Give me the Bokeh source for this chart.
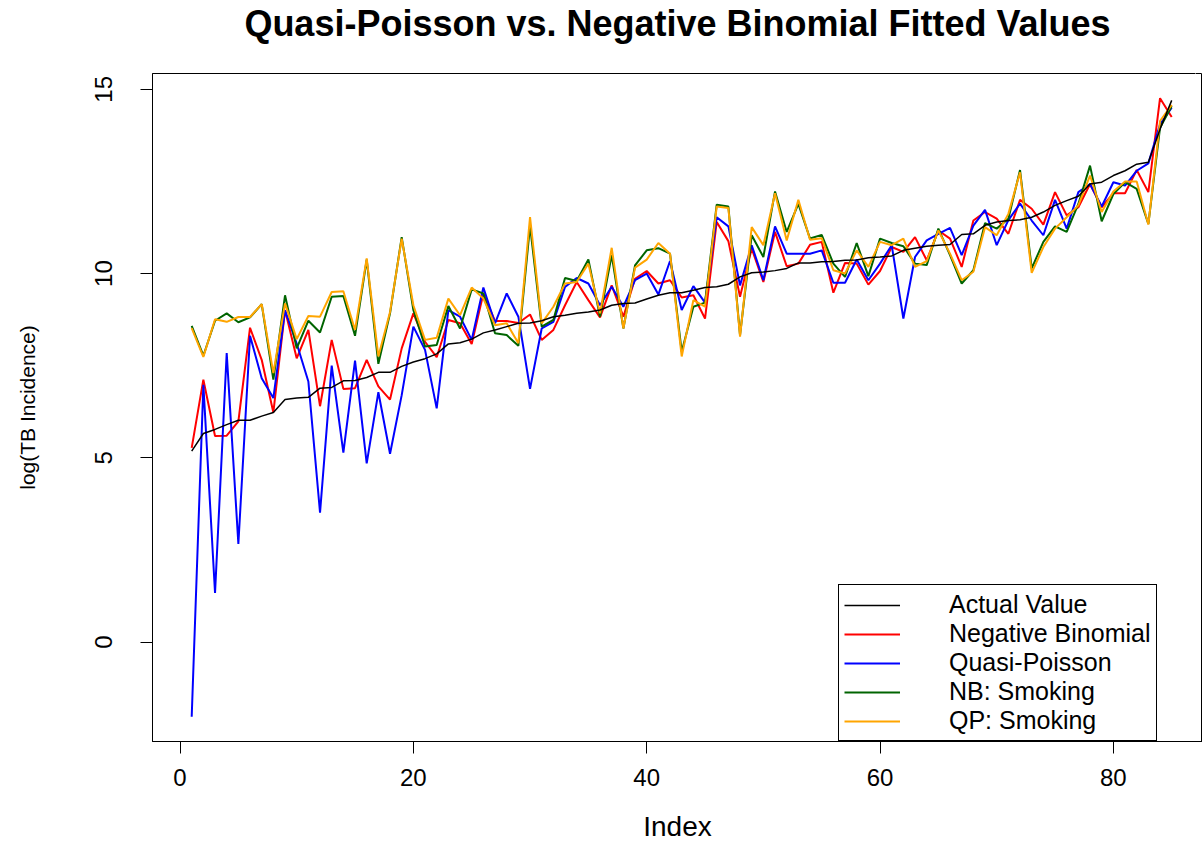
from bokeh.plotting import figure
from bokeh.models import Range1d, FixedTicker, Legend, LegendItem, ColumnDataSource, LinearAxis
from bokeh.embed import file_html
from bokeh.resources import INLINE

index = list(range(1, 86))

actual = [5.18, 5.66, 5.77, 5.90, 6.02, 6.02, 6.13, 6.23, 6.58, 6.62,
          6.64, 6.89, 6.91, 7.09, 7.10, 7.18, 7.32, 7.32, 7.48, 7.60,
          7.69, 7.82, 8.09, 8.12, 8.22, 8.39, 8.47, 8.56, 8.65, 8.66,
          8.72, 8.83, 8.87, 8.92, 8.96, 9.01, 9.14, 9.19, 9.20, 9.31,
          9.41, 9.48, 9.48, 9.55, 9.62, 9.64, 9.71, 9.91, 10.02, 10.04,
          10.08, 10.14, 10.29, 10.29, 10.32, 10.33, 10.36, 10.37, 10.43, 10.45,
          10.48, 10.63, 10.69, 10.74, 10.77, 10.79, 11.06, 11.08, 11.31, 11.40,
          11.44, 11.46, 11.53, 11.67, 11.85, 11.98, 12.10, 12.43, 12.48, 12.66,
          12.79, 12.97, 13.02, 13.92, 14.70]

neg_binomial = [5.27, 7.12, 5.59, 5.60, 5.99, 8.53, 7.66, 6.23, 9.01, 7.70,
                8.47, 6.40, 8.20, 6.87, 6.89, 7.66, 6.94, 6.58, 7.97, 8.92,
                8.15, 7.73, 8.74, 8.65, 8.09, 9.46, 8.71, 8.71, 8.66, 8.89,
                8.20, 8.47, 9.14, 9.77, 9.28, 8.81, 9.68, 8.83, 9.86, 10.07,
                9.73, 9.82, 9.35, 9.41, 8.78, 11.40, 10.88, 9.37, 10.68, 9.77,
                11.13, 10.20, 10.27, 10.78, 10.86, 9.48, 10.29, 10.27, 9.70, 10.07,
                10.72, 10.59, 10.99, 10.36, 11.17, 10.95, 10.18, 11.44, 11.67, 11.49,
                11.08, 12.00, 11.76, 11.33, 12.21, 11.58, 11.80, 12.43, 11.80, 12.18,
                12.18, 12.81, 12.21, 14.76, 14.25]

quasi_poisson = [-2.03, 6.98, 1.33, 7.84, 2.66, 8.31, 7.16, 6.62, 9.00, 8.10,
                 7.07, 3.51, 7.50, 5.14, 7.64, 4.85, 6.78, 5.11, 6.70, 8.56,
                 7.93, 6.34, 9.01, 8.83, 8.20, 9.62, 8.65, 9.46, 8.83, 6.87,
                 8.51, 8.69, 9.64, 9.88, 9.73, 9.14, 9.64, 9.10, 9.82, 10.00,
                 9.43, 10.34, 9.01, 9.66, 9.21, 11.53, 11.28, 9.68, 10.77, 9.82,
                 11.28, 10.54, 10.54, 10.54, 10.63, 9.75, 9.75, 10.38, 9.82, 10.27,
                 10.77, 8.78, 10.45, 10.90, 11.08, 11.24, 10.50, 11.30, 11.73, 10.77,
                 11.45, 11.90, 11.44, 11.04, 12.00, 11.22, 12.21, 12.43, 11.82, 12.48,
                 12.39, 12.79, 12.99, 14.05, 14.50]

nb_smoking = [8.58, 7.77, 8.72, 8.92, 8.68, 8.81, 9.17, 7.12, 9.41, 7.97,
              8.72, 8.40, 9.37, 9.39, 8.31, 10.38, 7.55, 8.92, 10.99, 9.01,
              8.02, 8.06, 9.12, 8.51, 9.57, 9.46, 8.38, 8.33, 8.04, 11.30,
              8.56, 8.74, 9.88, 9.80, 10.38, 8.83, 10.50, 8.51, 10.22, 10.63,
              10.69, 10.54, 7.88, 9.10, 9.21, 11.87, 11.82, 8.33, 11.04, 10.45,
              12.23, 11.13, 11.89, 10.95, 11.05, 10.27, 9.91, 10.83, 9.93, 10.95,
              10.83, 10.74, 10.27, 10.23, 11.22, 10.50, 9.73, 10.09, 11.37, 11.22,
              11.49, 12.81, 10.14, 10.86, 11.28, 11.13, 11.89, 12.93, 11.42, 12.16,
              12.48, 12.30, 11.35, 13.96, 14.55]

qp_smoking = [8.52, 7.74, 8.76, 8.69, 8.82, 8.82, 9.17, 7.30, 9.19, 8.22,
              8.85, 8.83, 9.50, 9.52, 8.47, 10.41, 7.75, 8.96, 10.95, 9.14,
              8.20, 8.26, 9.32, 8.87, 9.62, 9.32, 8.60, 8.65, 8.11, 11.53,
              8.65, 9.10, 9.73, 9.77, 10.27, 8.92, 10.70, 8.51, 10.16, 10.38,
              10.83, 10.54, 7.75, 9.28, 9.10, 11.82, 11.78, 8.29, 11.26, 10.77,
              12.18, 10.90, 12.00, 10.92, 10.96, 10.09, 10.00, 10.63, 10.18, 10.86,
              10.77, 10.95, 10.18, 10.34, 11.17, 10.54, 9.82, 10.05, 11.26, 11.04,
              11.62, 12.75, 10.02, 10.72, 11.22, 11.53, 11.85, 12.66, 11.67, 12.23,
              12.50, 12.50, 11.33, 14.14, 14.58]

x_ticks = [0, 20, 40, 60, 80]
y_ticks = [0, 5, 10, 15]
title_text = "Quasi-Poisson vs. Negative Binomial Fitted Values"

FONT = "Liberation Sans"

src = ColumnDataSource(dict(index=index, actual=actual, nb=neg_binomial, qp=quasi_poisson,
                            nbs=nb_smoking, qps=qp_smoking))

p = figure(width=1202, height=844, output_backend="svg", toolbar_location=None,
           x_range=Range1d(-2.36, 87.64), y_range=Range1d(-2.70, 15.43),
           min_border_left=152, min_border_right=0, min_border_top=71, min_border_bottom=103,
           title=title_text)

p.background_fill_color = "white"
p.border_fill_color = "white"
p.outline_line_color = "black"
p.outline_line_width = 1
p.outline_line_alpha = 1
p.xgrid.visible = False
p.ygrid.visible = False

p.title.align = "center"
p.title.text_font = FONT
p.title.text_font_size = "36px"
p.title.text_font_style = "bold"
p.title.text_color = "black"
p.title.text_line_height = 1.0
p.title.standoff = 0

xax = p.below[0]
yax = p.left[0]

for ax in (xax, yax):
    ax.minor_tick_line_color = None
    ax.major_tick_in = 0
    ax.major_tick_out = 12
    ax.major_tick_line_color = "black"
    ax.axis_line_color = "black"
    ax.major_label_text_font = FONT
    ax.major_label_text_font_size = "24px"
    ax.major_label_text_color = "black"
    ax.axis_label_text_font = FONT
    ax.axis_label_text_font_style = "normal"
    ax.axis_label_text_color = "black"

xax.ticker = FixedTicker(ticks=x_ticks)
yax.ticker = FixedTicker(ticks=y_ticks)
xax.axis_label = "Index"
yax.axis_label = "log(TB Incidence)"
xax.major_label_standoff = 15
xax.major_label_text_line_height = 1.0
xax.axis_label_standoff = 22
xax.axis_label_text_line_height = 1.0
xax.axis_label_text_font_size = "28px"
yax.major_label_orientation = "vertical"
yax.major_label_standoff = 28
yax.axis_label_standoff = 54
yax.axis_label_text_font_size = "21px"

# invisible spacer between the title and the frame: one white tick, empty label
spacer = LinearAxis(ticker=FixedTicker(ticks=[87]), major_tick_out=30, major_tick_in=0,
                    major_label_standoff=0, axis_line_color=None, major_tick_line_color="white",
                    minor_tick_line_color=None, major_label_text_font_size="0px",
                    major_label_overrides={87: ""})
p.add_layout(spacer, "above")

r_nb = p.line("index", "nb", source=src, line_color="#FF0000", line_width=2)
r_qp = p.line("index", "qp", source=src, line_color="#0000FF", line_width=2)
r_nbs = p.line("index", "nbs", source=src, line_color="#006400", line_width=2)
r_qps = p.line("index", "qps", source=src, line_color="#FFA500", line_width=2)
r_act = p.line("index", "actual", source=src, line_color="black", line_width=1.5)

legend = Legend(items=[
    LegendItem(label="Actual Value", renderers=[r_act]),
    LegendItem(label="Negative Binomial", renderers=[r_nb]),
    LegendItem(label="Quasi-Poisson", renderers=[r_qp]),
    LegendItem(label="NB: Smoking", renderers=[r_nbs]),
    LegendItem(label="QP: Smoking", renderers=[r_qps]),
], location=(686, 0))
legend.margin = 0
legend.padding = 5
legend.spacing = 0
legend.glyph_width = 56
legend.glyph_height = 26
legend.label_height = 26
legend.label_standoff = 49
legend.label_text_font = FONT
legend.label_text_font_size = "25px"
legend.label_text_color = "black"
legend.border_line_color = "black"
legend.border_line_width = 1
legend.border_line_alpha = 1
legend.background_fill_color = "white"
legend.background_fill_alpha = 1
p.add_layout(legend)

open("out.html", "w").write(file_html(p, INLINE))
